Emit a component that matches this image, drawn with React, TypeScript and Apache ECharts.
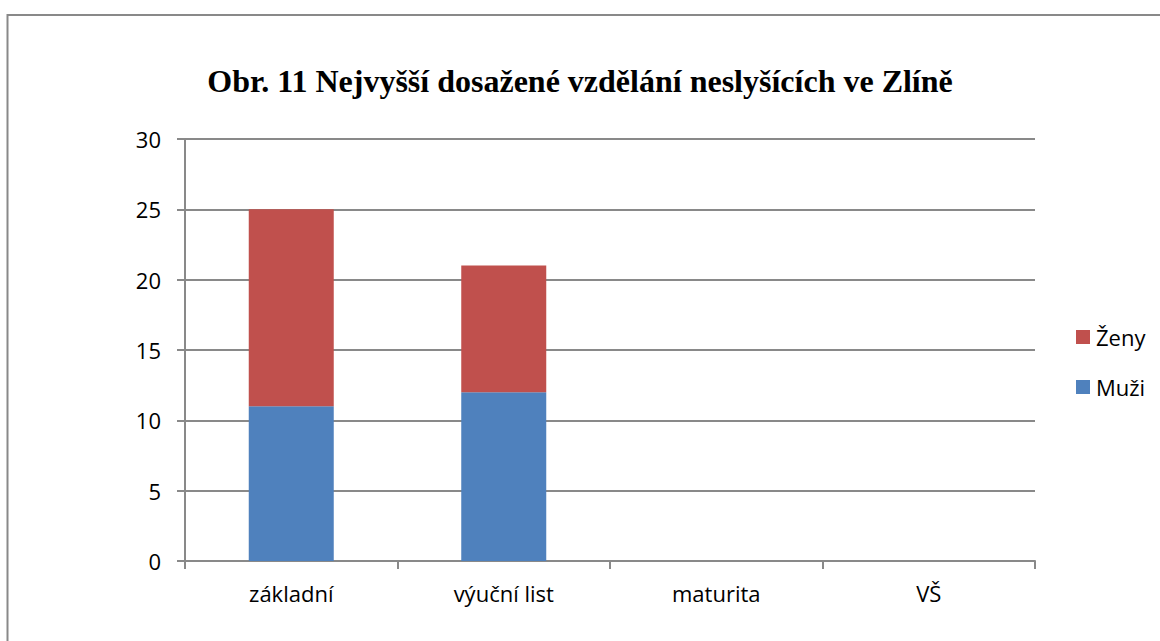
import React, { useEffect, useRef } from "react";
import * as echarts from "echarts";

const categories = ["základní", "výuční list", "maturita", "VŠ"];
const muzi = [11, 12, 0, 0];
const zeny = [14, 9, 0, 0];
const titleText = "Obr. 11 Nejvyšší dosažené vzdělání neslyšících ve Zlíně";

const GRAY = "#898989";
const FONT = "'Open Sans', 'Noto Sans', sans-serif";

export default function App() {
  const ref = useRef<HTMLDivElement>(null);
  useEffect(() => {
    if (!ref.current) return;
    const chart = echarts.init(ref.current, null, { renderer: "svg" });
    chart.setOption({
      animation: false,
      backgroundColor: "#ffffff",
      title: {
        text: titleText,
        left: "center",
        top: 60,
        textStyle: {
          fontFamily: "'Liberation Serif', 'Times New Roman', serif",
          fontWeight: "bold",
          fontSize: 32,
          color: "#000",
        },
      },
      graphic: [
        {
          type: "rect",
          shape: { x: 7.5, y: 15, width: 1300, height: 800 },
          style: { fill: "none", stroke: GRAY, lineWidth: 2 },
          silent: true,
        },
      ],
      legend: {
        orient: "vertical",
        left: 1071,
        top: 321,
        itemWidth: 14,
        itemHeight: 14,
        itemGap: 28,
        icon: "rect",
        data: ["Ženy", "Muži"],
        textStyle: { fontFamily: FONT, fontSize: 22, color: "#000", padding: [0, 0, 0, 1] },
      },
      grid: { left: 185, right: 125, top: 139, bottom: 80, containLabel: false },
      xAxis: {
        type: "category",
        data: categories,
        boundaryGap: true,
        axisLine: { show: true, lineStyle: { color: GRAY, width: 2 } },
        axisTick: { show: true, interval: 0, length: 8, lineStyle: { color: GRAY, width: 2 } },
        axisLabel: { fontFamily: FONT, fontSize: 22, color: "#000", margin: 21, interval: 0 },
      },
      yAxis: {
        type: "value",
        min: 0,
        max: 30,
        interval: 5,
        axisLine: { show: true, lineStyle: { color: GRAY, width: 2 } },
        axisTick: { show: true, length: 8, lineStyle: { color: GRAY, width: 2 } },
        splitLine: { show: true, lineStyle: { color: GRAY, width: 2 } },
        axisLabel: { fontFamily: FONT, fontSize: 22, color: "#000", margin: 24 },
      },
      series: [
        {
          name: "Muži",
          type: "bar",
          stack: "total",
          data: muzi,
          barWidth: "40%",
          itemStyle: { color: "#4F81BD" },
        },
        {
          name: "Ženy",
          type: "bar",
          stack: "total",
          data: zeny,
          barWidth: "40%",
          itemStyle: { color: "#C0504D" },
        },
      ],
    });
    return () => chart.dispose();
  }, []);
  return (
    <div
      ref={ref}
      style={{ position: "fixed", left: 0, top: 0, width: 1160, height: 641, background: "#fff" }}
    />
  );
}
